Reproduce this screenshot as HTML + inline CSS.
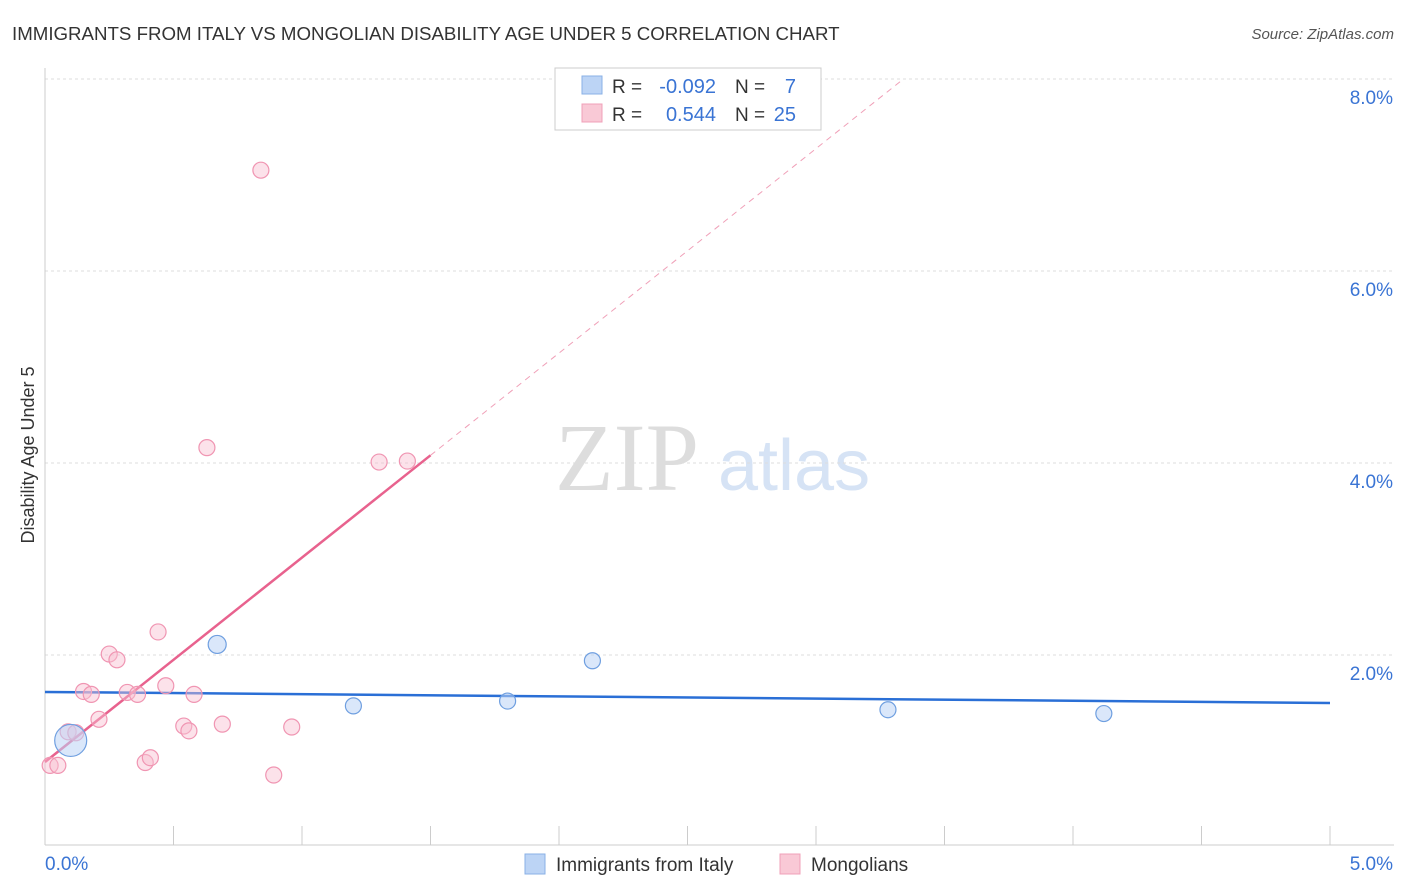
<!DOCTYPE html>
<html><head><meta charset="utf-8"><style>
body{margin:0;background:#fff;font-family:"Liberation Sans",sans-serif}
#c{position:relative;width:1406px;height:892px;overflow:hidden}
</style></head><body><div id="c">
<svg id="s" width="1406" height="892" xmlns="http://www.w3.org/2000/svg">
<text x="12" y="40" font-size="18.7" fill="#333">IMMIGRANTS FROM ITALY VS MONGOLIAN DISABILITY AGE UNDER 5 CORRELATION CHART</text>
<text x="1394" y="39" font-size="15" fill="#555" text-anchor="end" font-style="italic">Source: ZipAtlas.com</text>
<text transform="translate(34,455) rotate(-90)" font-size="18" fill="#333" text-anchor="middle">Disability Age Under 5</text>
<text x="555" y="490" font-size="96" fill="#ddd" font-family="Liberation Serif,serif">ZIP</text>
<text x="718" y="490" font-size="72" fill="#d6e3f5">atlas</text>
<g id="grid"></g><g id="axes"></g><g id="lines"></g><g id="pts"></g>
<g>
<rect x="555" y="68" width="266" height="62" fill="#fff" stroke="#ccc"/>
<rect x="582" y="76" width="20" height="18" fill="#bcd4f5" stroke="#8ab0e6"/>
<rect x="582" y="104" width="20" height="18" fill="#f9c9d6" stroke="#f0a0b8"/>
<text x="612" y="93" font-size="19" fill="#333">R =</text>
<text x="716" y="93" font-size="20" fill="#3a74d4" text-anchor="end">-0.092</text>
<text x="735" y="93" font-size="19" fill="#333">N =</text>
<text x="796" y="93" font-size="20" fill="#3a74d4" text-anchor="end">7</text>
<text x="612" y="121" font-size="19" fill="#333">R =</text>
<text x="716" y="121" font-size="20" fill="#3a74d4" text-anchor="end">0.544</text>
<text x="735" y="121" font-size="19" fill="#333">N =</text>
<text x="796" y="121" font-size="20" fill="#3a74d4" text-anchor="end">25</text>
</g>
<g>
<rect x="525" y="854" width="20" height="20" fill="#bcd4f5" stroke="#8ab0e6"/>
<text x="556" y="871" font-size="19" fill="#333">Immigrants from Italy</text>
<rect x="780" y="854" width="20" height="20" fill="#f9c9d6" stroke="#f0a0b8"/>
<text x="811" y="871" font-size="19" fill="#333">Mongolians</text>
</g>
</svg></div>
<script>
const blueX=[0.10,0.67,1.20,1.80,2.13,3.28,4.12];
const blueY=[1.11,2.11,1.47,1.52,1.94,1.43,1.39];
const blueR=[16,9,8,8,8,8,8];
const pinkX=[0.02,0.05,0.09,0.12,0.15,0.18,0.21,0.25,0.28,0.32,0.36,0.39,0.41,0.44,0.47,0.54,0.56,0.58,0.63,0.69,0.84,0.89,0.96,1.30,1.41];
const pinkY=[0.85,0.85,1.20,1.19,1.62,1.59,1.33,2.01,1.95,1.61,1.59,0.88,0.93,2.24,1.68,1.26,1.21,1.59,4.16,1.28,7.05,0.75,1.25,4.01,4.02];
const blueLine=[1.615,1.50];
const pinkIntercept=0.885, pinkSlope=2.13;
const xTicks=[0,0.5,1,1.5,2,2.5,3,3.5,4,4.5,5];
const yTicks=[2,4,6,8];
const X=v=>45+v*257, Y=v=>847-v*96;
const NS="http://www.w3.org/2000/svg";
function mk(p,t,a){const e=document.createElementNS(NS,t);for(const k in a)e.setAttribute(k,a[k]);document.getElementById(p).appendChild(e);return e;}
yTicks.forEach(t=>{
 const l=mk('grid','line',{x1:45,x2:1394,y1:Y(t),y2:Y(t),stroke:'#ddd','stroke-dasharray':'3,3'});
 
 
 const tx=mk('grid','text',{x:1393,y:Y(t)+25,'font-size':19,fill:'#3a74d4','text-anchor':'end'});tx.textContent=t.toFixed(1)+'%';
 
 
});
mk('axes','line',{x1:45,x2:45,y1:68,y2:845,stroke:'#ccc'});
mk('axes','line',{x1:45,x2:1394,y1:845,y2:845,stroke:'#ccc'});
xTicks.forEach(t=>{const l=mk('axes','line',{x1:X(t),x2:X(t),y1:826,y2:845,stroke:'#ccc'});
 
 });
let a=mk('axes','text',{x:45,y:870,'font-size':19,fill:'#3a74d4'});a.textContent=xTicks[0].toFixed(1)+'%';


a=mk('axes','text',{x:1393,y:870,'font-size':19,fill:'#3a74d4','text-anchor':'end'});a.textContent=xTicks[xTicks.length-1].toFixed(1)+'%';


let b=mk('lines','line',{x1:X(0),y1:Y(blueLine[0]),x2:X(5),y2:Y(blueLine[1]),stroke:'#2a6fd6','stroke-width':2.5});


const pe=1.5, pd=(8.0-pinkIntercept)/pinkSlope;
b=mk('lines','line',{x1:X(0),y1:Y(pinkIntercept),x2:X(pe),y2:Y(pinkIntercept+pinkSlope*pe),stroke:'#e8628e','stroke-width':2.5});


b=mk('lines','line',{x1:X(pe),y1:Y(pinkIntercept+pinkSlope*pe),x2:X(pd),y2:Y(8.0),stroke:'#f0a0b8','stroke-width':1,'stroke-dasharray':'6,5'});


pinkX.forEach((x,i)=>{const c=mk('pts','circle',{cx:X(x),cy:Y(pinkY[i]),r:8,fill:'rgba(249,190,208,0.45)',stroke:'#f095b2','stroke-width':1.2});
 
 });
blueX.forEach((x,i)=>{const c=mk('pts','circle',{cx:X(x),cy:Y(blueY[i]),r:blueR[i],fill:'rgba(188,212,245,0.55)',stroke:'#6f9fe0','stroke-width':1.2});
 
 });
</script></body></html>
